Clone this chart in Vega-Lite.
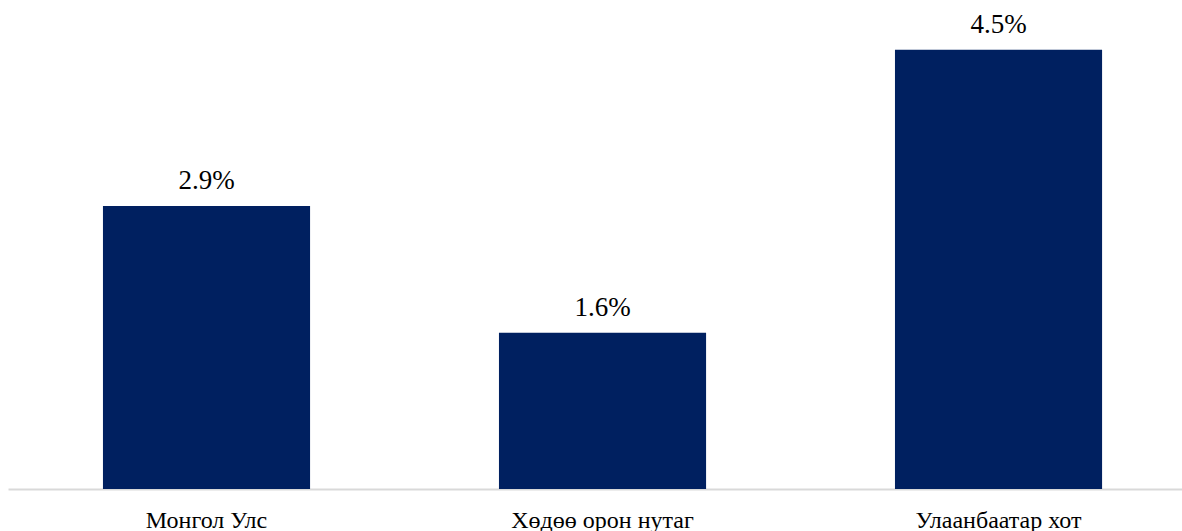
{
  "$schema": "https://vega.github.io/schema/vega-lite/v6.json",
  "autosize": {"type": "none"},
  "width": 1174,
  "height": 488,
  "padding": {"left": 8, "top": 1, "right": 0, "bottom": 42},
  "background": "white",
  "config": {"view": {"stroke": null}, "font": "Liberation Serif", "text": {"font": "Liberation Serif"}, "mark": {"font": "Liberation Serif"}},
  "data": {"values": [
    {"category": "Монгол Улс", "value": 0.029},
    {"category": "Хөдөө орон нутаг", "value": 0.016},
    {"category": "Улаанбаатар хот", "value": 0.045}
  ]},
  "encoding": {
    "x": {
      "field": "category", "type": "nominal", "sort": null,
      "scale": {"paddingInner": 0.477, "paddingOuter": 0.2208, "align": 0.543},
      "axis": {
        "title": null, "ticks": false, "labelAngle": 0, "labelLimit": 0,
        "labelFont": "Liberation Serif", "labelFontSize": 24, "labelColor": "#000000",
        "labelBaseline": "alphabetic", "labelPadding": 38,
        "domainColor": "#d9d9d9", "domainWidth": 2
      }
    },
    "y": {
      "field": "value", "type": "quantitative",
      "scale": {"domain": [0, 0.05], "nice": false},
      "axis": null
    }
  },
  "layer": [
    {"mark": {"type": "bar", "color": "#002060"}},
    {
      "mark": {"type": "text", "baseline": "alphabetic", "dy": -17, "fontSize": 27, "font": "Liberation Serif", "color": "#000000"},
      "encoding": {"text": {"field": "value", "type": "quantitative", "format": ".1%"}}
    }
  ]
}
